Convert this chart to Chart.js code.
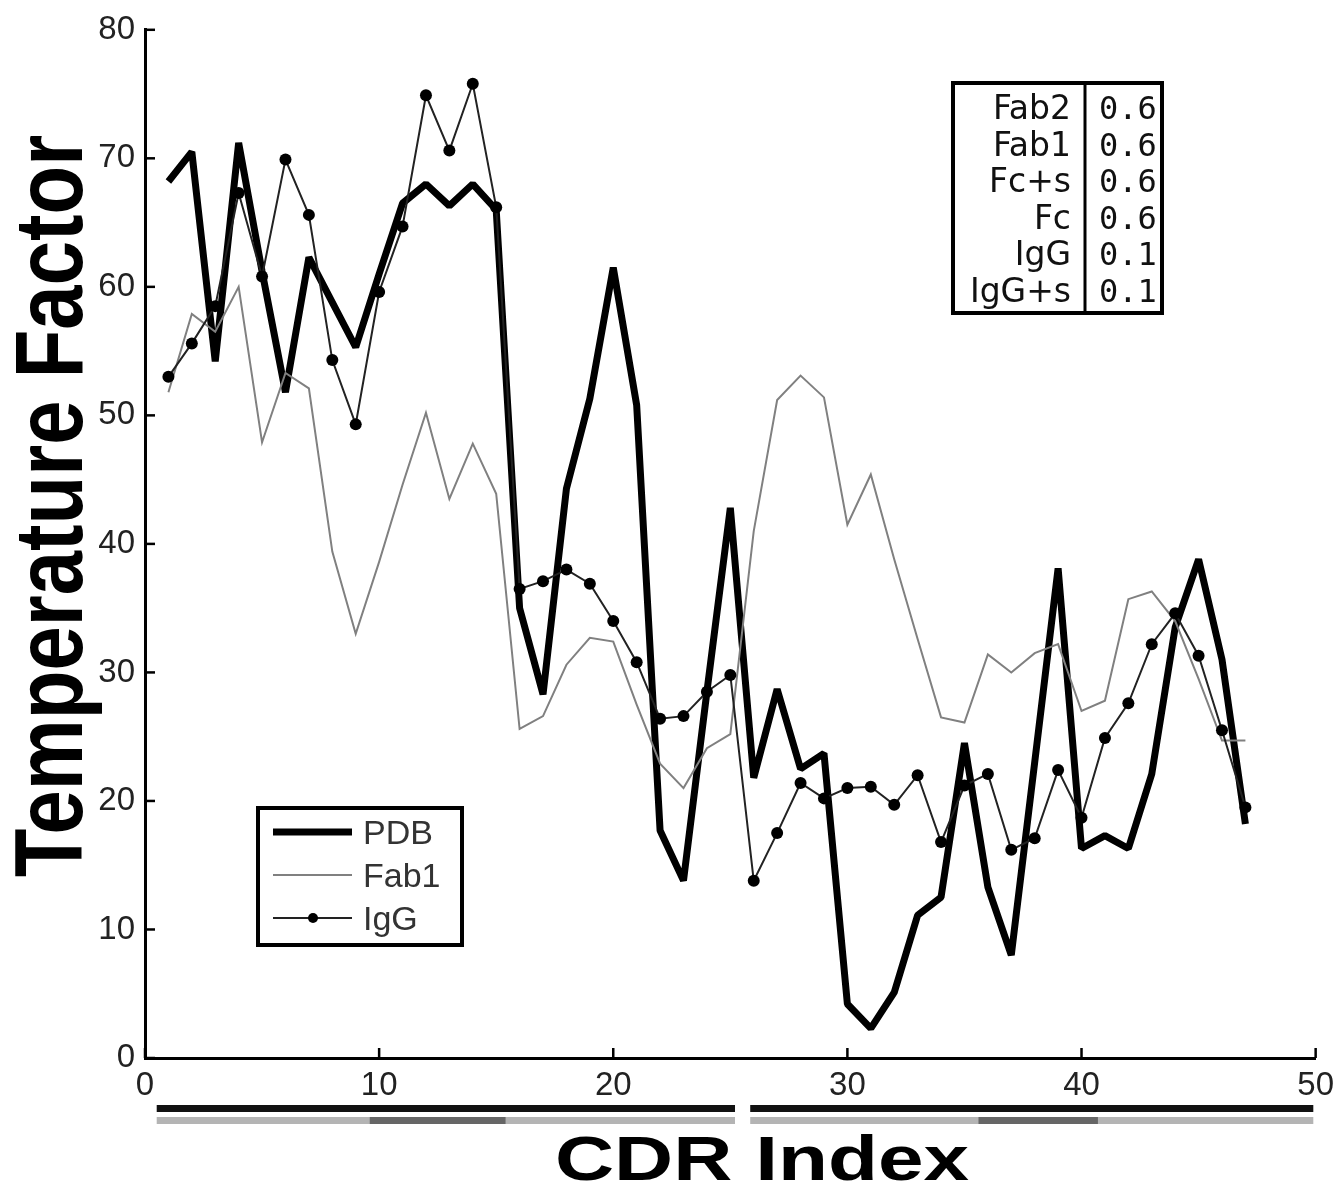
<!DOCTYPE html>
<html><head><meta charset="utf-8">
<script src="https://cdn.jsdelivr.net/npm/chart.js@4.4.1/dist/chart.umd.min.js"></script>
<style>html,body{margin:0;padding:0;background:#fff;}canvas{display:block;}</style>
</head><body>
<canvas id="c" width="1342" height="1186"></canvas>
<script>
const cdrIndex = [1,2,3,4,5,6,7,8,9,10,11,12,13,14,15,16,17,18,19,20,21,22,23,24,25,26,27,28,29,30,31,32,33,34,35,36,37,38,39,40,41,42,43,44,45,46,47];
const pdb  = [68.2,70.5,54.2,71.2,61.2,51.8,62.3,58.8,55.3,61,66.5,68,66.3,68,66,35,28.3,44.3,51.3,61.5,50.8,17.7,13.8,28.5,42.8,21.8,28.7,22.5,23.7,4.2,2.3,5.1,11.1,12.5,24.5,13.3,8.0,23,38.1,16.3,17.3,16.3,22.1,33.5,38.8,31,18.2];
const fab1 = [51.8,57.9,56.5,60,47.9,53.3,52.1,39.4,33.0,38.6,44.6,50.2,43.5,47.8,43.9,25.6,26.6,30.6,32.7,32.4,27.5,22.9,21.0,24.1,25.2,41,51.2,53.1,51.4,41.5,45.4,38.8,32.6,26.5,26.1,31.4,30.0,31.5,32.2,27.0,27.8,35.7,36.3,34.0,29.5,24.7,24.7];
const igg  = [53,55.6,58.5,67.3,60.8,69.9,65.6,54.3,49.3,59.6,64.7,74.9,70.6,75.8,66.2,36.5,37.1,38.0,36.9,34.0,30.8,26.4,26.6,28.5,29.8,13.8,17.5,21.4,20.2,21.0,21.1,19.7,22.0,16.8,21.2,22.1,16.2,17.1,22.4,18.7,24.9,27.6,32.2,34.6,31.3,25.5,19.5];
const xTicks = [0,10,20,30,40,50];
const yTicks = [0,10,20,30,40,50,60,70,80];
const chainRanges = [[0.5,25.2],[25.85,49.9]];
const loopRanges = [[9.6,15.4],[35.6,40.7]];
const seriesNames = ['PDB','Fab1','IgG'];
const tableNames = ['Fab2','Fab1','Fc+s','Fc','IgG','IgG+s'];
const tableValues = ['0.6','0.6','0.6','0.6','0.1','0.1'];
const xTitle = 'CDR Index';
const yTitle = 'Temperature Factor';

const toPts = arr => cdrIndex.map((x,i)=>({x:x, y:arr[i]}));

const deco = {
  id:'deco',
  afterDraw(chart){
    const ctx = chart.ctx, xs = chart.scales.x, ys = chart.scales.y, ca = chart.chartArea;
    ctx.save();
    // inward tick marks
    ctx.strokeStyle = '#000'; ctx.lineWidth = 2.5;
    yTicks.forEach(v=>{ const p = ys.getPixelForValue(v); ctx.beginPath(); ctx.moveTo(ca.left, p); ctx.lineTo(ca.left+10, p); ctx.stroke(); });
    xTicks.forEach(v=>{ const p = xs.getPixelForValue(v); ctx.beginPath(); ctx.moveTo(p, ca.bottom); ctx.lineTo(p, ca.bottom-10); ctx.stroke(); });
    // region bars under the axis
    chainRanges.forEach(r=>{
      const a = xs.getPixelForValue(r[0]), b = xs.getPixelForValue(r[1]);
      ctx.fillStyle = '#111'; ctx.fillRect(a, 1105, b-a, 7);
      ctx.fillStyle = '#b4b4b4'; ctx.fillRect(a, 1117, b-a, 7);
    });
    loopRanges.forEach(r=>{
      const a = xs.getPixelForValue(r[0]), b = xs.getPixelForValue(r[1]);
      ctx.fillStyle = '#666'; ctx.fillRect(a, 1117, b-a, 7);
    });
    // axis titles
    ctx.fillStyle = '#000';
    ctx.save();
    ctx.translate(82, 506); ctx.rotate(-Math.PI/2); ctx.scale(0.83,1);
    ctx.font = 'bold 96px "Liberation Sans", Arial, sans-serif';
    ctx.textAlign = 'center'; ctx.textBaseline = 'alphabetic';
    ctx.fillText(yTitle, 0, 0);
    ctx.restore();
    ctx.save();
    ctx.translate(762, 1180); ctx.scale(1.3,1);
    ctx.font = 'bold 63px "Liberation Sans", Arial, sans-serif';
    ctx.textAlign = 'center'; ctx.textBaseline = 'alphabetic';
    ctx.fillText(xTitle, 0, 0);
    ctx.restore();
    // legend box
    const ds = chart.data.datasets;
    ctx.fillStyle = '#fff'; ctx.fillRect(258, 808, 204, 137);
    ctx.strokeStyle = '#000'; ctx.lineWidth = 4; ctx.strokeRect(258, 808, 204, 137);
    const ly = [832, 875, 918];
    ds.forEach((d,i)=>{
      ctx.strokeStyle = d.borderColor; ctx.lineWidth = d.borderWidth;
      ctx.beginPath(); ctx.moveTo(273, ly[i]); ctx.lineTo(352, ly[i]); ctx.stroke();
      if (d.pointRadius > 0) { ctx.fillStyle = d.pointBackgroundColor; ctx.beginPath(); ctx.arc(313, ly[i], 5, 0, Math.PI*2); ctx.fill(); }
      ctx.fillStyle = '#333'; ctx.font = '34px "Liberation Sans", Arial, sans-serif';
      ctx.textAlign = 'left'; ctx.textBaseline = 'alphabetic';
      ctx.fillText(seriesNames[i], 363, ly[i]+12);
    });
    // table
    ctx.fillStyle = '#fff'; ctx.fillRect(953, 83, 209, 230);
    ctx.strokeStyle = '#000'; ctx.lineWidth = 4; ctx.strokeRect(953, 83, 209, 230);
    ctx.lineWidth = 3; ctx.beginPath(); ctx.moveTo(1085, 83); ctx.lineTo(1085, 313); ctx.stroke();
    const rowC = [107,143.5,180,216.5,253,289.5];
    ctx.fillStyle = '#111';
    tableNames.forEach((n,i)=>{
      ctx.font = '33px "DejaVu Sans", sans-serif'; ctx.textAlign = 'right';
      ctx.fillText(n, 1071, rowC[i]+12);
      ctx.font = '32px "DejaVu Sans Mono", monospace'; ctx.textAlign = 'left';
      ctx.fillText(tableValues[i], 1099, rowC[i]+12);
    });
    ctx.restore();
  }
};

new Chart(document.getElementById('c').getContext('2d'), {
  type:'line',
  data:{ datasets:[
    {label:seriesNames[0], data:toPts(pdb), borderColor:'#000', borderWidth:7, pointRadius:0, order:3, borderJoinStyle:'bevel', tension:0, fill:false},
    {label:seriesNames[1], data:toPts(fab1), borderColor:'#808080', borderWidth:2, pointRadius:0, order:2, tension:0, fill:false},
    {label:seriesNames[2], data:toPts(igg), borderColor:'#222', borderWidth:2, pointRadius:6, pointBackgroundColor:'#000', pointBorderColor:'#000', pointBorderWidth:0, order:1, tension:0, fill:false}
  ]},
  options:{
    responsive:false, animation:false, devicePixelRatio:1,
    layout:{padding:{top:27,right:25,left:0,bottom:0}},
    plugins:{legend:{display:false}, tooltip:{enabled:false}},
    scales:{
      x:{type:'linear', min:0, max:50,
        afterFit(s){ s.height = 128; },
        afterBuildTicks(s){ s.ticks = xTicks.map(v=>({value:v})); },
        grid:{display:false, drawTicks:false},
        border:{display:true, color:'#000', width:3},
        ticks:{font:{family:'"Liberation Sans", Arial, sans-serif', size:33}, color:'#222', padding:8, autoSkip:false, maxRotation:0}
      },
      y:{type:'linear', min:0, max:80,
        afterFit(s){ s.width = 145; },
        afterBuildTicks(s){ s.ticks = yTicks.map(v=>({value:v})); },
        grid:{display:false, drawTicks:false},
        border:{display:true, color:'#000', width:3},
        ticks:{font:{family:'"Liberation Sans", Arial, sans-serif', size:33}, color:'#222', padding:10, autoSkip:false}
      }
    }
  },
  plugins:[deco]
});
</script>
</body></html>
